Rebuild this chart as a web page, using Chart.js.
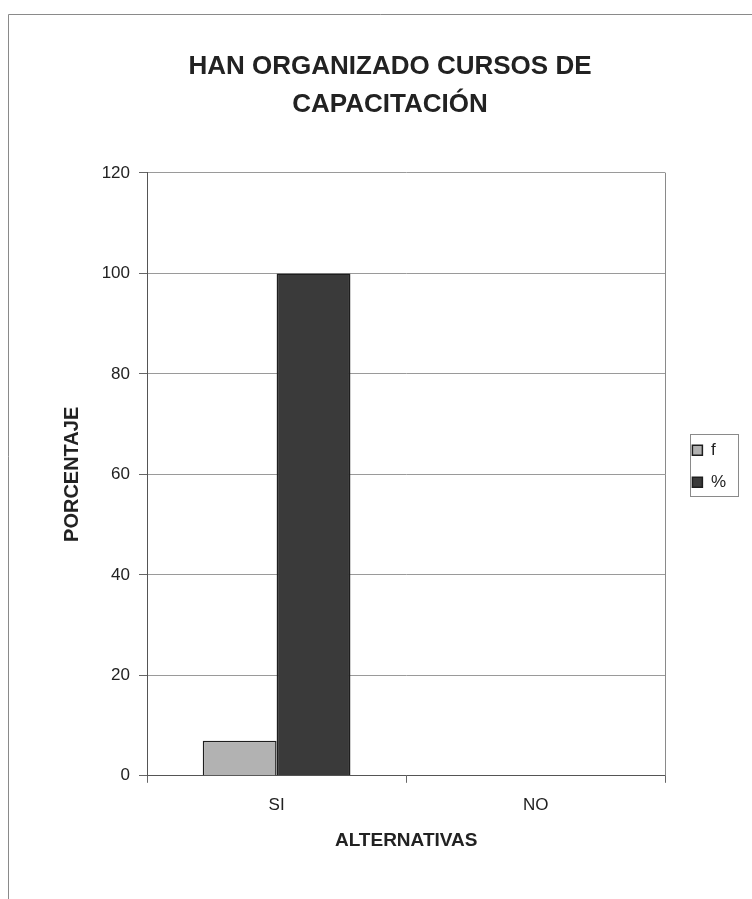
<!DOCTYPE html>
<html>
<head>
<meta charset="utf-8">
<script src="https://cdn.jsdelivr.net/npm/chart.js@4/dist/chart.umd.min.js"></script>
<style>
  html, body { margin: 0; padding: 0; background: #fff; }
  #wrap { position: relative; width: 752px; height: 899px; }
  canvas { display: block; }
</style>
</head>
<body>
<div id="wrap"><canvas id="c" width="752" height="899"></canvas></div>
<script>
const titleLines = ["HAN ORGANIZADO CURSOS DE", "CAPACITACIÓN"];
const categories = ["SI", "NO"];
const seriesNames = ["f", "%"];
const fValues = [7, 0];
const pctValues = [100, 0];
const yTitle = "PORCENTAJE";
const xTitle = "ALTERNATIVAS";
const yMin = 0, yMax = 120, yStep = 20;

const FONT = "'Liberation Sans', Arial, Helvetica, sans-serif";

const framePlugin = {
  id: 'frame',
  afterLayout(chart) {
    const lg = chart.legend;
    if (lg) {
      const dx = 12, dy = -8;
      lg.left += dx; lg.right += dx;
      lg.top += dy; lg.bottom += dy;
    }
  },
  beforeDraw(chart) {
    const ctx = chart.ctx;
    ctx.save();
    ctx.strokeStyle = '#8a8a8a';
    ctx.lineWidth = 1;
    ctx.beginPath();
    ctx.moveTo(8.5, 899);
    ctx.lineTo(8.5, 14.5);
    ctx.lineTo(752, 14.5);
    ctx.stroke();
    ctx.restore();
  },
  afterDraw(chart) {
    const ctx = chart.ctx;
    const a = chart.chartArea;
    ctx.save();
    ctx.strokeStyle = '#8a8a8a';
    ctx.lineWidth = 1;
    ctx.beginPath();
    ctx.moveTo(Math.round(a.right) + 0.5, a.top);
    ctx.lineTo(Math.round(a.right) + 0.5, a.bottom);
    ctx.stroke();
    const hb = chart.legend && chart.legend.legendHitBoxes;
    if (hb && hb.length) {
      let l = Infinity, t = Infinity, r = -Infinity, b = -Infinity;
      hb.forEach(h => { l = Math.min(l, h.left); t = Math.min(t, h.top); r = Math.max(r, h.left + h.width); b = Math.max(b, h.top + h.height); });
      ctx.strokeStyle = '#8a8a8a';
      ctx.strokeRect(Math.round(l - 2) + 0.5, Math.round(t - 8) + 0.5, Math.round(r - l + 14), Math.round(b - t + 13));
    }
    ctx.restore();
  }
};

new Chart(document.getElementById('c'), {
  type: 'bar',
  data: {
    labels: categories,
    datasets: [
      { label: seriesNames[0], data: fValues, backgroundColor: '#b2b2b2', borderColor: '#1e1e1e', borderWidth: 1.5 },
      { label: seriesNames[1], data: pctValues, backgroundColor: '#3a3a3a', borderColor: '#1e1e1e', borderWidth: 1.5 }
    ]
  },
  options: {
    responsive: false,
    animation: false,
    devicePixelRatio: 1,
    layout: { padding: { top: 30, left: 56, right: 28, bottom: 35 } },
    datasets: { bar: { categoryPercentage: 0.57, barPercentage: 1.0 } },
    plugins: {
      title: {
        display: true,
        text: titleLines,
        color: '#222',
        font: { family: FONT, size: 26, weight: 'bold', lineHeight: 1.46 },
        padding: { top: 18, bottom: 49 }
      },
      legend: {
        position: 'right',
        fullSize: false,
        labels: {
          color: '#222',
          font: { family: FONT, size: 17 },
          boxWidth: 10,
          boxHeight: 10,
          padding: 15
        }
      },
      tooltip: { enabled: false }
    },
    scales: {
      x: {
        offset: true,
        grid: { display: true, drawOnChartArea: false, drawTicks: true, tickLength: 7, offset: true, tickColor: '#666' },
        border: { display: true, color: '#555', width: 1 },
        ticks: { color: '#222', font: { family: FONT, size: 17 }, padding: 12 },
        title: { display: true, text: xTitle, color: '#222', font: { family: FONT, size: 19, weight: 'bold' }, padding: { top: 2, bottom: 12 } }
      },
      y: {
        min: yMin, max: yMax,
        afterFit(axis) { axis.width = 91; },
        ticks: { stepSize: yStep, color: '#222', font: { family: FONT, size: 17 }, padding: 9 },
        grid: { color: '#9a9a9a', tickLength: 8, tickColor: '#666' },
        border: { display: true, color: '#555', width: 1 },
        title: { display: true, text: yTitle, color: '#222', font: { family: FONT, size: 20, weight: 'bold' }, padding: { top: 4, bottom: 4 } }
      }
    }
  },
  plugins: [framePlugin]
});
</script>
</body>
</html>
